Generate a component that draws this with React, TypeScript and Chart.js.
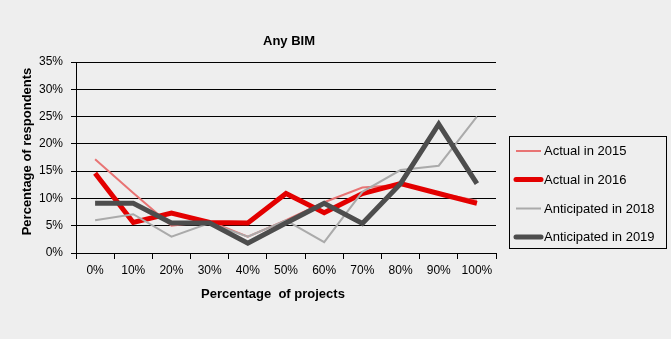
import React, { useEffect, useRef } from "react";
import { Chart, registerables } from "chart.js";

Chart.register(...registerables);

const categories = ["0%", "10%", "20%", "30%", "40%", "50%", "60%", "70%", "80%", "90%", "100%"];
const actual2015 = [17.2, 11, 5, 5.8, 3, 6, 9.3, 12, 12.5, 11, 9.6];
const actual2016 = [14.6, 5.6, 7.3, 5.6, 5.5, 10.9, 7.4, 10.9, 12.7, 10.9, 9.1];
const anticipated2018 = [6, 7.1, 3, 5.5, 3, 6, 2, 11.2, 15.2, 16, 25];
const anticipated2019 = [9.1, 9.1, 5.5, 5.5, 1.8, 5.5, 9.1, 5.4, 12.7, 23.6, 12.7];
const yTicks = [0, 5, 10, 15, 20, 25, 30, 35];

const FONT = "'Liberation Sans', Arial, sans-serif";

const overlayPlugin = {
  id: "overlay",
  afterDraw(chart: any) {
    const ctx = chart.ctx;
    ctx.save();
    ctx.fillStyle = "#000";
    // main title
    ctx.font = `bold 13px ${FONT}`;
    ctx.textAlign = "center";
    ctx.textBaseline = "middle";
    ctx.fillText("Any BIM", 289, 41);
    // x axis title
    ctx.fillText("Percentage  of projects", 273, 294);
    // y axis title
    ctx.save();
    ctx.translate(27, 151.5);
    ctx.rotate(-Math.PI / 2);
    ctx.fillText("Percentage of respondents", 0, 0);
    ctx.restore();
    // legend
    const bx = 509.5, by = 136.5, bw = 157, bh = 112;
    ctx.strokeStyle = "#000";
    ctx.lineWidth = 1;
    ctx.strokeRect(bx, by, bw, bh);
    const rows = [151, 179.5, 208.5, 237];
    ctx.font = `13px ${FONT}`;
    ctx.textAlign = "left";
    chart.data.datasets.forEach((ds: any, i: number) => {
      const y = rows[i];
      ctx.beginPath();
      ctx.strokeStyle = ds.borderColor;
      ctx.lineWidth = ds.borderWidth;
      ctx.lineCap = ds.borderWidth > 3 ? "round" : "butt";
      ctx.moveTo(516, y);
      ctx.lineTo(541, y);
      ctx.stroke();
      ctx.fillStyle = "#000";
      ctx.fillText(ds.label, 544, y + 0.5);
    });
    ctx.restore();
  },
};

export default function App() {
  const ref = useRef<HTMLCanvasElement | null>(null);
  useEffect(() => {
    if (!ref.current) return;
    const chart = new Chart(ref.current, {
      type: "line",
      data: {
        labels: categories,
        datasets: [
          { label: "Actual in 2015", data: actual2015, borderColor: "#E87474", borderWidth: 2, order: 4 },
          { label: "Actual in 2016", data: actual2016, borderColor: "#E30000", borderWidth: 5, order: 3 },
          { label: "Anticipated in 2018", data: anticipated2018, borderColor: "#AAAAAA", borderWidth: 2, order: 2 },
          { label: "Anticipated in 2019", data: anticipated2019, borderColor: "#4D4D4D", borderWidth: 5, order: 1 },
        ].map((d) => ({ ...d, pointRadius: 0, pointHoverRadius: 0, tension: 0, fill: false })),
      },
      options: {
        animation: false,
        responsive: false,
        devicePixelRatio: 1,
        layout: { padding: { top: 62, right: 175, left: 0, bottom: 0 } },
        plugins: { legend: { display: false }, title: { display: false }, tooltip: { enabled: false } },
        scales: {
          x: {
            offset: true,
            grid: { display: true, drawOnChartArea: false, drawTicks: true, tickLength: 6, color: "#000", offset: true },
            border: { display: true, color: "#000", width: 1 },
            ticks: { color: "#000", font: { family: FONT, size: 12 }, padding: 4, maxRotation: 0, autoSkip: false },
            afterFit: (s: any) => { s.height = 86; },
          },
          y: {
            min: 0,
            max: 35,
            afterBuildTicks: (s: any) => { s.ticks = yTicks.map((v) => ({ value: v })); },
            grid: { color: "#000", lineWidth: 1, drawTicks: true, tickLength: 5 },
            border: { display: true, color: "#000", width: 1 },
            ticks: { color: "#000", font: { family: FONT, size: 12 }, padding: 8, callback: (v: any) => v + "%" },
            afterFit: (s: any) => { s.width = 76; },
          },
        },
      },
      plugins: [overlayPlugin],
    });
    return () => chart.destroy();
  }, []);
  return (
    <div style={{ position: "fixed", left: 0, top: 0, width: 671, height: 339, background: "#EEEEEE" }}>
      <canvas ref={ref} width={671} height={339} style={{ display: "block", width: 671, height: 339 }} />
    </div>
  );
}
